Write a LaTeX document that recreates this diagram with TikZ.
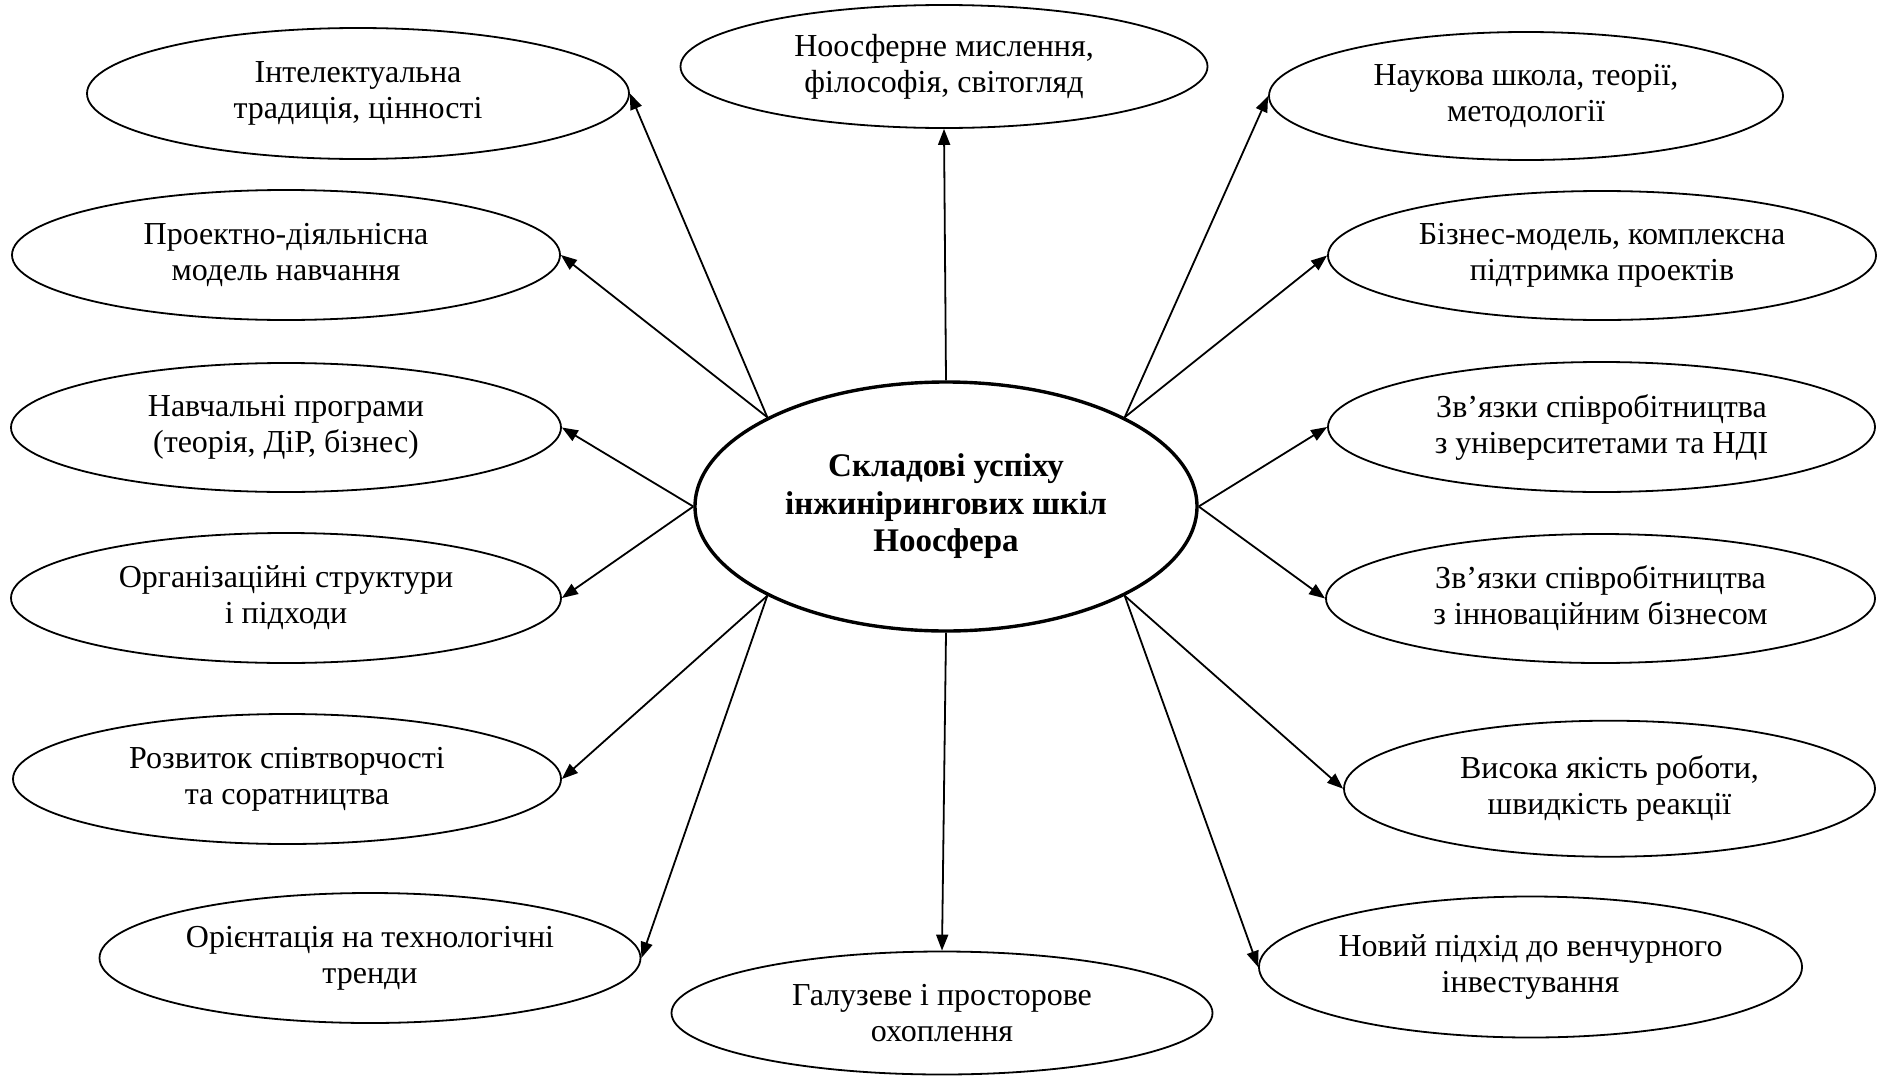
\documentclass[tikz,border=0pt]{standalone}
\usepackage{fontspec}
\setmainfont{Liberation Serif}
\usetikzlibrary{arrows.meta,shapes.geometric}
\begin{document}
\begin{tikzpicture}[x=1pt,y=-1pt,
  oval/.style={ellipse,draw,line width=1.8pt,inner sep=0pt,align=center,
    font=\fontsize{32}{36}\selectfont},
  hub/.style={ellipse,draw,line width=3.4pt,inner sep=0pt,align=center,
    font=\fontsize{33}{37.5}\selectfont\bfseries},
  arr/.style={line width=1.8pt,-{Triangle[length=16pt,width=12pt]}}]
\useasboundingbox[fill=white] (0,0) rectangle (1885,1076);
\node[hub,minimum width=502pt,minimum height=249pt] (c) at (946,506.5)
  {Складові успіху\\інжинірингових шкіл\\Ноосфера};
\node[oval,minimum width=542pt,minimum height=131pt] (intel) at (358,93.5)
  {Інтелектуальна\\традиція, цінності};
\node[oval,minimum width=527pt,minimum height=123pt] (noos) at (944,66.5)
  {Ноосферне мислення,\\філософія, світогляд};
\node[oval,minimum width=514pt,minimum height=128pt] (nauk) at (1526,96)
  {Наукова школа, теорії,\\методології};
\node[oval,minimum width=548pt,minimum height=130pt] (proekt) at (286,255)
  {Проектно-діяльнісна\\модель навчання};
\node[oval,minimum width=548pt,minimum height=129pt] (biz) at (1602,255.5)
  {Бізнес-модель, комплексна\\підтримка проектів};
\node[oval,minimum width=550pt,minimum height=129pt] (navch) at (286,427.5)
  {Навчальні програми\\(теорія, ДіР, бізнес)};
\node[oval,minimum width=547pt,minimum height=130pt] (ndi) at (1601.5,427)
  {Зв’язки співробітництва\\з університетами та НДІ};
\node[oval,minimum width=550pt,minimum height=130pt] (orh) at (286,598)
  {Організаційні структури\\і підходи};
\node[oval,minimum width=549pt,minimum height=129pt] (bizn) at (1600.5,598.5)
  {Зв’язки співробітництва\\з інноваційним бізнесом};
\node[oval,minimum width=548pt,minimum height=130pt] (rozv) at (287,779)
  {Розвиток співтворчості\\та соратництва};
\node[oval,minimum width=531pt,minimum height=136pt] (vys) at (1609.5,788.7)
  {Висока якість роботи,\\швидкість реакції};
\node[oval,minimum width=541pt,minimum height=130pt] (orient) at (370,958)
  {Орієнтація на технологічні\\тренди};
\node[oval,minimum width=543pt,minimum height=141pt] (novyi) at (1530.5,967)
  {Новий підхід до венчурного\\інвестування};
\node[oval,minimum width=541pt,minimum height=123pt] (gal) at (942,1013)
  {Галузеве і просторове\\охоплення};
\draw[arr] (c.north west) -- (intel.east);
\draw[arr] (c.north) -- (noos.south);
\draw[arr] (c.north east) -- (nauk.west);
\draw[arr] (c.north west) -- (proekt.east);
\draw[arr] (c.north east) -- (biz.west);
\draw[arr] (c.west) -- (navch.east);
\draw[arr] (c.east) -- (ndi.west);
\draw[arr] (c.west) -- (orh.east);
\draw[arr] (c.east) -- (bizn.west);
\draw[arr] (c.south west) -- (rozv.east);
\draw[arr] (c.south west) -- (orient.east);
\draw[arr] (c.south) -- (gal.north);
\draw[arr] (c.south east) -- (vys.west);
\draw[arr] (c.south east) -- (novyi.west);
\end{tikzpicture}
\end{document}
